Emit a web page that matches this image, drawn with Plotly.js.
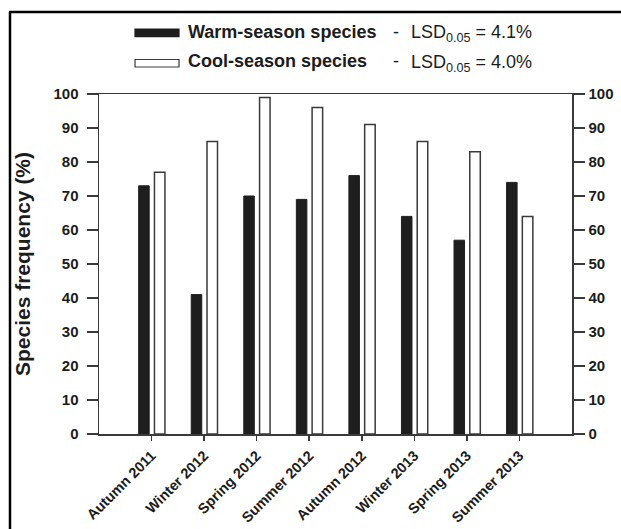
<!DOCTYPE html>
<html>
<head>
<meta charset="utf-8">
<script src="https://cdn.plot.ly/plotly-3.0.1.min.js"></script>
<style>
  html, body { margin: 0; padding: 0; background: #ffffff; }
  #chart { width: 621px; height: 529px; }
</style>
</head>
<body>
<div id="chart"></div>
<script>
// ---- data ----
const categories = ['Autumn 2011', 'Winter 2012', 'Spring 2012', 'Summer 2012',
                    'Autumn 2012', 'Winter 2013', 'Spring 2013', 'Summer 2013'];
const warmValues = [73, 41, 70, 69, 76, 64, 57, 74];
const coolValues = [77, 86, 99, 96, 91, 86, 83, 64];
const seriesNames = ['Warm-season species', 'Cool-season species'];
const lsdValues = ['4.1%', '4.0%'];
const yTickValues = [0, 10, 20, 30, 40, 50, 60, 70, 80, 90, 100];

// ---- geometry helpers (pixel -> paper) ----
const L = 99, R = 49, T = 94, B = 95, W = 621, H = 529;
const pw = W - L - R, ph = H - T - B;
const px = p => (p - L) / pw;
const py = p => 1 + (T - p) / ph;

const lineCol = '#3a3a3a';
const textCol = '#1c1c1c';
const font = 'Liberation Sans, Arial, Helvetica, sans-serif';

const traces = [
  {
    type: 'bar', x: categories, y: warmValues, name: seriesNames[0],
    width: 0.2, offset: -0.245,
    marker: { color: '#1e1e1e', line: { color: '#1e1e1e', width: 1 } },
    showlegend: false, hoverinfo: 'x+y'
  },
  {
    type: 'bar', x: categories, y: coolValues, name: seriesNames[1],
    width: 0.2, offset: 0.055, yaxis: 'y2',
    marker: { color: '#ffffff', line: { color: lineCol, width: 1.5 } },
    showlegend: false, hoverinfo: 'x+y'
  }
];

const swatchRows = [
  { y0: 36.7, y1: 29.0, fill: '#1e1e1e', line: '#1e1e1e', ty: 32.5 },
  { y0: 67.0, y1: 59.5, fill: '#ffffff', line: lineCol, ty: 61.5 }
];

const shapes = [
  // outer frame (left and top)
  { type: 'line', xref: 'paper', yref: 'paper', x0: px(10), x1: px(10), y0: py(12), y1: py(540),
    line: { color: '#000', width: 2.5 } },
  { type: 'line', xref: 'paper', yref: 'paper', x0: px(9), x1: px(630), y0: py(12), y1: py(12),
    line: { color: '#000', width: 2.5 } }
];
const annotations = [];
swatchRows.forEach((r, i) => {
  shapes.push({ type: 'rect', xref: 'paper', yref: 'paper',
    x0: px(135), x1: px(179), y0: py(r.y0), y1: py(r.y1),
    fillcolor: r.fill, line: { color: r.line, width: 1.2 } });
  annotations.push({ xref: 'paper', yref: 'paper', x: px(186), y: py(r.ty),
    xanchor: 'left', yanchor: 'middle', showarrow: false,
    text: '<b>' + seriesNames[i] + '</b>',
    font: { family: font, size: 18, color: textCol } });
  annotations.push({ xref: 'paper', yref: 'paper', x: px(396), y: py(r.ty),
    xanchor: 'center', yanchor: 'middle', showarrow: false,
    text: '-',
    font: { family: font, size: 18, color: textCol } });
  annotations.push({ xref: 'paper', yref: 'paper', x: px(409), y: py(r.ty + 1.5),
    xanchor: 'left', yanchor: 'middle', showarrow: false,
    text: 'LSD<sub>0.05</sub> = ' + lsdValues[i],
    font: { family: font, size: 18, color: textCol } });
});

const yCommon = {
  range: [0, 100], tickvals: yTickValues, ticktext: yTickValues.map(String),
  showgrid: false, zeroline: false, showline: true, linecolor: lineCol, linewidth: 1.5,
  ticks: 'outside', ticklen: 11, tickwidth: 1.5, tickcolor: lineCol,
  tickfont: { family: font, size: 15, color: textCol, weight: 'bold' },
  fixedrange: true
};

const layout = {
  width: W, height: H,
  margin: { l: L, r: R, t: T, b: B, pad: 0 },
  paper_bgcolor: '#ffffff', plot_bgcolor: '#ffffff',
  font: { family: font, color: textCol },
  barmode: 'overlay',
  xaxis: {
    type: 'category', range: [-1, 8], showgrid: false, zeroline: false,
    showline: true, mirror: true, linecolor: lineCol, linewidth: 1.5,
    ticks: 'outside', ticklen: 5, tickwidth: 1.5, tickcolor: lineCol,
    tickangle: -45, ticklabelstandoff: 1,
    tickfont: { family: font, size: 14.5, color: textCol, weight: 'bold' },
    fixedrange: true
  },
  yaxis: Object.assign({}, yCommon, {
    side: 'left', ticklabelstandoff: 5,
    title: { text: 'Species frequency (%)', standoff: 17,
             font: { family: font, size: 21, color: textCol, weight: 'bold' } }
  }),
  yaxis2: Object.assign({}, yCommon, {
    side: 'right', overlaying: 'y', ticklabelstandoff: 1
  }),
  shapes: shapes,
  annotations: annotations
};

Plotly.newPlot('chart', traces, layout, { displayModeBar: false, staticPlot: true });
</script>
</body>
</html>
